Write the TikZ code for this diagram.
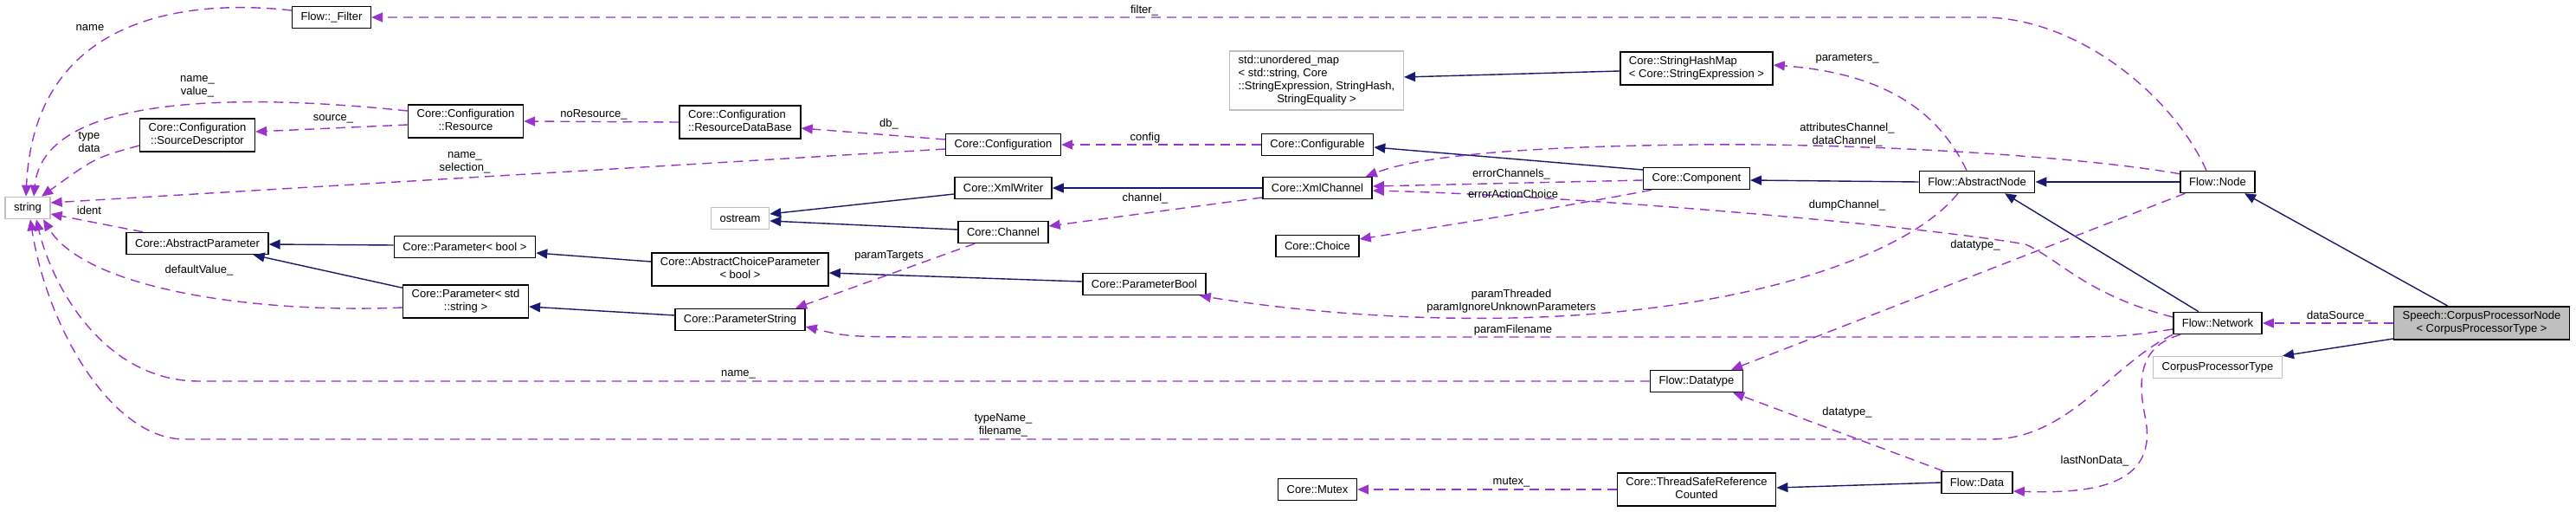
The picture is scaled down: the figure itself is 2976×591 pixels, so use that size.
\documentclass[tikz,border=0pt]{standalone}
\usepackage{fontspec}
\setmainfont{Liberation Sans}
\usetikzlibrary{arrows.meta}
\definecolor{docblue}{HTML}{191970}
\definecolor{docpurple}{HTML}{9A32CD}
\definecolor{docgray}{HTML}{BFBFBF}
\newcommand{\tline}[2]{\begin{tabular}{@{}l@{}}#1\\\multicolumn{1}{@{}c@{}}{#2}\end{tabular}}

\begin{document}
\begin{tikzpicture}[x=1pt,y=-1pt,
        every node/.style={font=\fontsize{13}{15}\selectfont},
        cls/.style={draw=black,fill=white,line width=1.5pt,minimum height=25pt,inner xsep=10pt,inner ysep=4pt},
        ext/.style={cls,draw=docgray},
        cur/.style={cls,fill=docgray},
        inh/.style={docblue,line width=1.4pt,-{Triangle[length=13pt,width=11pt]}},
        use/.style={docpurple,line width=1.4pt,dash pattern=on 11pt off 7pt,-{Triangle[length=13pt,width=11pt]}},
        lbl/.style={align=center,inner sep=0pt},
      ]
      \useasboundingbox (0,0) rectangle (2976,591);
      % classes
      \node[ext] (str) at (32,240) {string};
      \node[cls] (filter) at (383,20) {Flow::\_Filter};
      \node[cls] (srcdesc) at (228,156) {\tline{Core::Configuration}{::SourceDescriptor}};
      \node[cls] (absparam) at (228,281) {Core::AbstractParameter};
      \node[cls] (resource) at (538,140) {\tline{Core::Configuration}{::Resource}};
      \node[cls] (parambool) at (537,285) {Core::Parameter< bool >};
      \node[cls] (paramstr) at (538,348) {\tline{Core::Parameter< std}{::string >}};
      \node[cls] (resdb) at (855,141) {\tline{Core::Configuration}{::ResourceDataBase}};
      \node[ext] (ostream) at (855,252) {ostream};
      \node[cls] (abschoice) at (855,311) {\tline{Core::AbstractChoiceParameter}{< bool >}};
      \node[cls] (pstring) at (855,369) {Core::ParameterString};
      \node[cls] (config) at (1159,167) {Core::Configuration};
      \node[cls] (xmlwriter) at (1159,217) {Core::XmlWriter};
      \node[cls] (channel) at (1159,268) {Core::Channel};
      \node[cls] (pbool) at (1322,328) {Core::ParameterBool};
      \node[ext] (umap) at (1521,93) {\begin{tabular}{@{}l@{}}std::unordered\_map\\< std::string, Core\\::StringExpression, StringHash,\\\multicolumn{1}{@{}c@{}}{StringEquality >}\end{tabular}};
      \node[cls] (configurable) at (1522,167) {Core::Configurable};
      \node[cls] (xmlchannel) at (1522,217) {Core::XmlChannel};
      \node[cls] (choice) at (1522,284) {Core::Choice};
      \node[cls] (mutex) at (1522,565) {Core::Mutex};
      \node[cls] (hashmap) at (1960,79) {\tline{Core::StringHashMap}{< Core::StringExpression >}};
      \node[cls] (component) at (1960,206) {Core::Component};
      \node[cls] (datatype) at (1960,440) {Flow::Datatype};
      \node[cls] (tsrc) at (1960,565) {\tline{Core::ThreadSafeReference}{Counted}};
      \node[cls] (absnode) at (2284,210) {Flow::AbstractNode};
      \node[cls] (fdata) at (2284,557) {Flow::Data};
      \node[cls] (fnode) at (2562,210) {Flow::Node};
      \node[cls] (network) at (2562,373) {Flow::Network};
      \node[ext] (cptype) at (2562,424) {CorpusProcessorType};
      \node[cur] (cpn) at (2867,373) {\tline{Speech::CorpusProcessorNode}{< CorpusProcessorType >}};
      % inheritance
      \draw[inh] ([yshift=-3pt]hashmap.west) -- ([yshift=4pt]umap.east);
      \draw[inh] ([yshift=10pt]component.west) -- ([yshift=-3pt]configurable.east);
      \draw[inh] (absnode.west) -- ([yshift=-2pt]component.east);
      \draw[inh] (fnode.west) -- (absnode.east);
      \draw[inh] ([xshift=-22pt]network.north) -- ([xshift=32pt]absnode.south);
      \draw[inh] ([xshift=-39pt]cpn.north) -- ([xshift=31pt]fnode.south);
      \draw[inh] ([yshift=-18pt]cpn.west) -- (cptype.north east);
      \draw[inh] (xmlchannel.west) -- (xmlwriter.east);
      \draw[inh] ([yshift=-7pt]xmlwriter.west) -- ([yshift=5pt]ostream.east);
      \draw[inh] ([yshift=3pt]channel.west) -- ([yshift=-3pt]ostream.east);
      \draw[inh] ([yshift=3pt]pbool.west) -- ([yshift=-4pt]abschoice.east);
      \draw[inh] ([yshift=9pt]abschoice.west) -- ([yshift=-7pt]parambool.east);
      \draw[inh] ([yshift=2pt]parambool.west) -- ([yshift=-1pt]absparam.east);
      \draw[inh] ([yshift=-4pt]paramstr.north west) -- ([xshift=-18pt]absparam.south east);
      \draw[inh] ([yshift=5pt]pstring.west) -- ([yshift=-6pt]paramstr.east);
      \draw[inh] (fdata.west) -- ([yshift=2pt]tsrc.east);
      % usage
      \draw[use] ([xshift=-13pt]fnode.north) .. controls (2510,110) and (2400,20) .. (2290,20) -- (filter.east);
      \draw[use] ([yshift=8pt]filter.west) .. controls (230,0) and (40,10) .. ([xshift=-2pt]str.north);
      \draw[use] ([yshift=12pt]resource.west) .. controls (250,105) and (50,115) .. ([xshift=7pt]str.north);
      \draw[use] ([yshift=-12pt]srcdesc.west) .. controls (110,182) .. ([xshift=16pt]str.north);
      \draw[use] ([yshift=-4pt]resource.west) -- ([yshift=4pt]srcdesc.east);
      \draw[use] (resdb.west) -- (resource.east);
      \draw[use] ([yshift=6pt]config.west) -- ([yshift=-7pt]resdb.east);
      \draw[use] ([yshift=-5pt]config.west) -- ([yshift=6pt]str.east);
      \draw[use] (configurable.west) -- (config.east);
      \draw[use] ([yshift=-11pt]xmlchannel.west) -- ([yshift=7pt]channel.east);
      \draw[use] ([xshift=-33pt]channel.south) -- ([xshift=64pt]pstring.north);
      \draw[use] ([xshift=-63pt]absparam.north) -- ([yshift=-7pt]str.east);
      \draw[use] ([yshift=-7pt]paramstr.west) .. controls (300,362) and (100,335) .. ([xshift=18pt]str.south);
      \draw[use] (datatype.west) -- (230,440) .. controls (120,440) and (60,330) .. ([xshift=10pt]str.south);
      \draw[use] (network.south west) .. controls (2440,420) and (2390,507) .. (2300,507) -- (213,507) .. controls (130,507) and (55,380) .. ([xshift=3pt]str.south);
      \draw[use] ([xshift=9pt]network.south west) .. controls (2470,400) and (2470,440) .. (2478,480) .. controls (2495,560) and (2420,570) .. ([yshift=-10pt]fdata.east);
      \draw[use] ([yshift=-7pt]network.west) .. controls (2450,389) .. (2350,389) -- (1100,389) .. controls (980,389) .. ([yshift=-8pt]pstring.east);
      \draw[use] ([xshift=-22pt]absnode.south) .. controls (2200,300) and (2000,362) .. (1746,367) .. controls (1600,370) and (1470,355) .. ([xshift=-8pt]pbool.south east);
      \draw[use] ([yshift=-4pt]fnode.north west) .. controls (2400,180) and (2150,165) .. (1960,167) .. controls (1760,169) and (1640,180) .. ([xshift=-8pt]xmlchannel.north east);
      \draw[use] ([yshift=-2pt]component.west) -- ([yshift=2pt]xmlchannel.east);
      \draw[use] ([xshift=10pt]component.south west) .. controls (1800,240) and (1660,262) .. ([yshift=8pt]choice.east);
      \draw[use] ([yshift=7pt]network.west) .. controls (2410,340) and (2380,300) .. (2340,282) .. controls (2200,258) and (1800,225) .. ([yshift=-3pt]xmlchannel.east);
      \draw[use] ([xshift=-12pt]absnode.north) .. controls (2240,130) and (2180,85) .. ([yshift=4pt]hashmap.east);
      \draw[use] ([xshift=6pt]fnode.south west) -- ([xshift=-14pt]datatype.north east);
      \draw[use] ([xshift=3pt]fdata.north west) -- ([xshift=-12pt]datatype.south east);
      \draw[use] (cpn.west) -- (network.east);
      \draw[use] (tsrc.west) -- (mutex.east);
      % labels
      \node[lbl] (lfilter) at (1322,12) {filter\_};
      \node[lbl] (lname) at (104,32) {name};
      \node[lbl] (lnamevalue) at (228,100) {name\_\\value\_};
      \node[lbl] (lsource) at (385,137) {source\_};
      \node[lbl] (ltypedata) at (103,164) {type\\data};
      \node[lbl] (lselection) at (537,188) {name\_\\selection\_};
      \node[lbl] (lident) at (103,243) {ident};
      \node[lbl] (lnores) at (686,132) {noResource\_};
      \node[lbl] (ldefault) at (230,312) {defaultValue\_};
      \node[lbl] (ldb) at (1027,143) {db\_};
      \node[lbl] (lconfig) at (1323,159) {config};
      \node[lbl] (lchannel) at (1323,229) {channel\_};
      \node[lbl] (ltargets) at (1027,295) {paramTargets};
      \node[lbl] (lname2) at (853,432) {name\_};
      \node[lbl] (ltypename) at (1159,491) {typeName\_\\filename\_};
      \node[lbl] (lparams) at (2134,68) {parameters\_};
      \node[lbl] (lattr) at (2134,156) {attributesChannel\_\\dataChannel\_};
      \node[lbl] (lerrch) at (1746,201) {errorChannels\_};
      \node[lbl] (lerract) at (1748,224) {errorActionChoice};
      \node[lbl] (ldump) at (2134,237) {dumpChannel\_};
      \node[lbl] (lthreaded) at (1746,348) {paramThreaded\\paramIgnoreUnknownParameters};
      \node[lbl] (lfilename) at (1748,381) {paramFilename};
      \node[lbl] (ldtype) at (2134,476) {datatype\_};
      \node[lbl] (ldtype2) at (2282,283) {datatype\_};
      \node[lbl] (lmutex) at (1746,557) {mutex\_};
      \node[lbl] (lsource2) at (2702,365) {dataSource\_};
      \node[lbl] (llast) at (2420,532) {lastNonData\_};
    \end{tikzpicture}
\end{document}
